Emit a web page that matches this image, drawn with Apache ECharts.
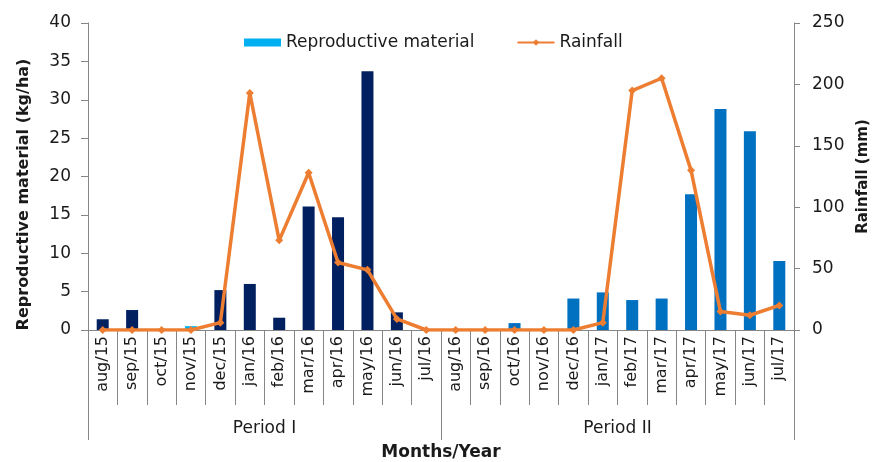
<!DOCTYPE html>
<html>
<head>
<meta charset="utf-8">
<script src="https://cdn.jsdelivr.net/npm/echarts@6/dist/echarts.min.js"></script>
<style>
  html, body { margin: 0; padding: 0; background: #fff; }
  #chart { width: 877px; height: 462px; }
</style>
</head>
<body>
<div id="chart"></div>
<script>
const months = ['aug/15', 'sep/15', 'oct/15', 'nov/15', 'dec/15', 'jan/16', 'feb/16', 'mar/16', 'apr/16', 'may/16', 'jun/16', 'jul/16',
  'aug/16', 'sep/16', 'oct/16', 'nov/16', 'dec/16', 'jan/17', 'feb/17', 'mar/17', 'apr/17', 'may/17', 'jun/17', 'jul/17']
const periods = ['Period I', 'Period II']
const material = [1.4, 2.6, 0, 0.5, 5.2, 6.0, 1.6, 16.1, 14.7, 33.7, 2.3, 0,
  0, 0, 0.9, 0, 4.1, 4.9, 3.9, 4.1, 17.7, 28.8, 25.9, 9.0]
const rainfall = [0, 0, 0, 0, 6, 193, 73, 128, 55, 49, 9, 0,
  0, 0, 0, 0, 0, 6, 195, 205, 130, 15, 12, 20]
const leftTicks = [0, 40, 5]
const rightTicks = [0, 250, 50]

// bar colours: period I navy, period II blue, nov/15 light blue
const barColor = function (params) {
  if (params.dataIndex === 3) return '#00B0F0'
  return params.dataIndex < 12 ? '#002060' : '#0070C0'
}

const font = 'DejaVu Sans'
const axisGray = '#868686'
const textColor = '#1a1a1a'

const chart = echarts.init(document.getElementById('chart'))
const option = {
  animation: false,
  textStyle: { fontFamily: font },
  grid: { left: 88, right: 83, top: 23, bottom: 132, outerBoundsMode: 'none' },
  legend: {
    left: 239,
    top: 29,
    itemGap: 42,
    itemWidth: 37,
    itemHeight: 8,
    selectedMode: false,
    textStyle: { fontFamily: font, fontSize: 17, color: textColor },
    data: [
      { name: 'Reproductive material', icon: 'rect', itemStyle: { color: '#00B0F0' } },
      { name: 'Rainfall' }
    ]
  },
  xAxis: [
    {
      type: 'category',
      data: months,
      position: 'bottom',
      axisLine: { show: true, lineStyle: { color: axisGray, width: 1 } },
      axisTick: { show: true, interval: 0, length: 75, lineStyle: { color: axisGray } },
      axisLabel: { interval: 0, rotate: 90, margin: 6, fontFamily: font, fontSize: 16, color: textColor }
    },
    {
      // period brackets below the month labels
      type: 'category',
      data: periods,
      position: 'bottom',
      axisLine: { show: false },
      axisTick: { show: true, interval: 0, length: 110, lineStyle: { color: axisGray } },
      axisLabel: { interval: 0, margin: 90, fontFamily: font, fontSize: 17, color: textColor },
      name: 'Months/Year',
      nameLocation: 'middle',
      nameGap: 114,
      nameMoveOverlap: false,
      nameTextStyle: { fontFamily: font, fontSize: 17, fontWeight: 'bold', color: textColor, verticalAlign: 'top' }
    }
  ],
  yAxis: [
    {
      type: 'value',
      min: leftTicks[0],
      max: leftTicks[1],
      interval: leftTicks[2],
      position: 'left',
      name: 'Reproductive material (kg/ha)',
      nameLocation: 'middle',
      nameGap: 56,
      nameTextStyle: { fontFamily: font, fontSize: 16, fontWeight: 'bold', color: textColor, padding: [0, 36, 0, 0] },
      axisLine: { show: true, lineStyle: { color: axisGray } },
      axisTick: { show: true, length: 7, lineStyle: { color: axisGray } },
      axisLabel: { margin: 17, fontFamily: font, fontSize: 17, color: textColor },
      splitLine: { show: false }
    },
    {
      type: 'value',
      min: rightTicks[0],
      max: rightTicks[1],
      interval: rightTicks[2],
      position: 'right',
      name: 'Rainfall (mm)',
      nameLocation: 'middle',
      nameRotate: 90,
      nameGap: 62,
      nameTextStyle: { fontFamily: font, fontSize: 15, fontWeight: 'bold', color: textColor },
      axisLine: { show: true, lineStyle: { color: axisGray } },
      axisTick: { show: true, length: 6, lineStyle: { color: axisGray } },
      axisLabel: { margin: 18, fontFamily: font, fontSize: 17, color: textColor },
      splitLine: { show: false }
    }
  ],
  series: [
    {
      name: 'Reproductive material',
      type: 'bar',
      xAxisIndex: 0,
      yAxisIndex: 0,
      data: material,
      barWidth: 12,
      itemStyle: { color: barColor }
    },
    {
      name: 'Rainfall',
      type: 'line',
      xAxisIndex: 0,
      yAxisIndex: 1,
      data: rainfall,
      symbol: 'diamond',
      symbolSize: 8,
      lineStyle: { color: '#ED7D31', width: 3.5 },
      itemStyle: { color: '#ED7D31' }
    }
  ]
}
chart.setOption(option)
</script>
</body>
</html>
